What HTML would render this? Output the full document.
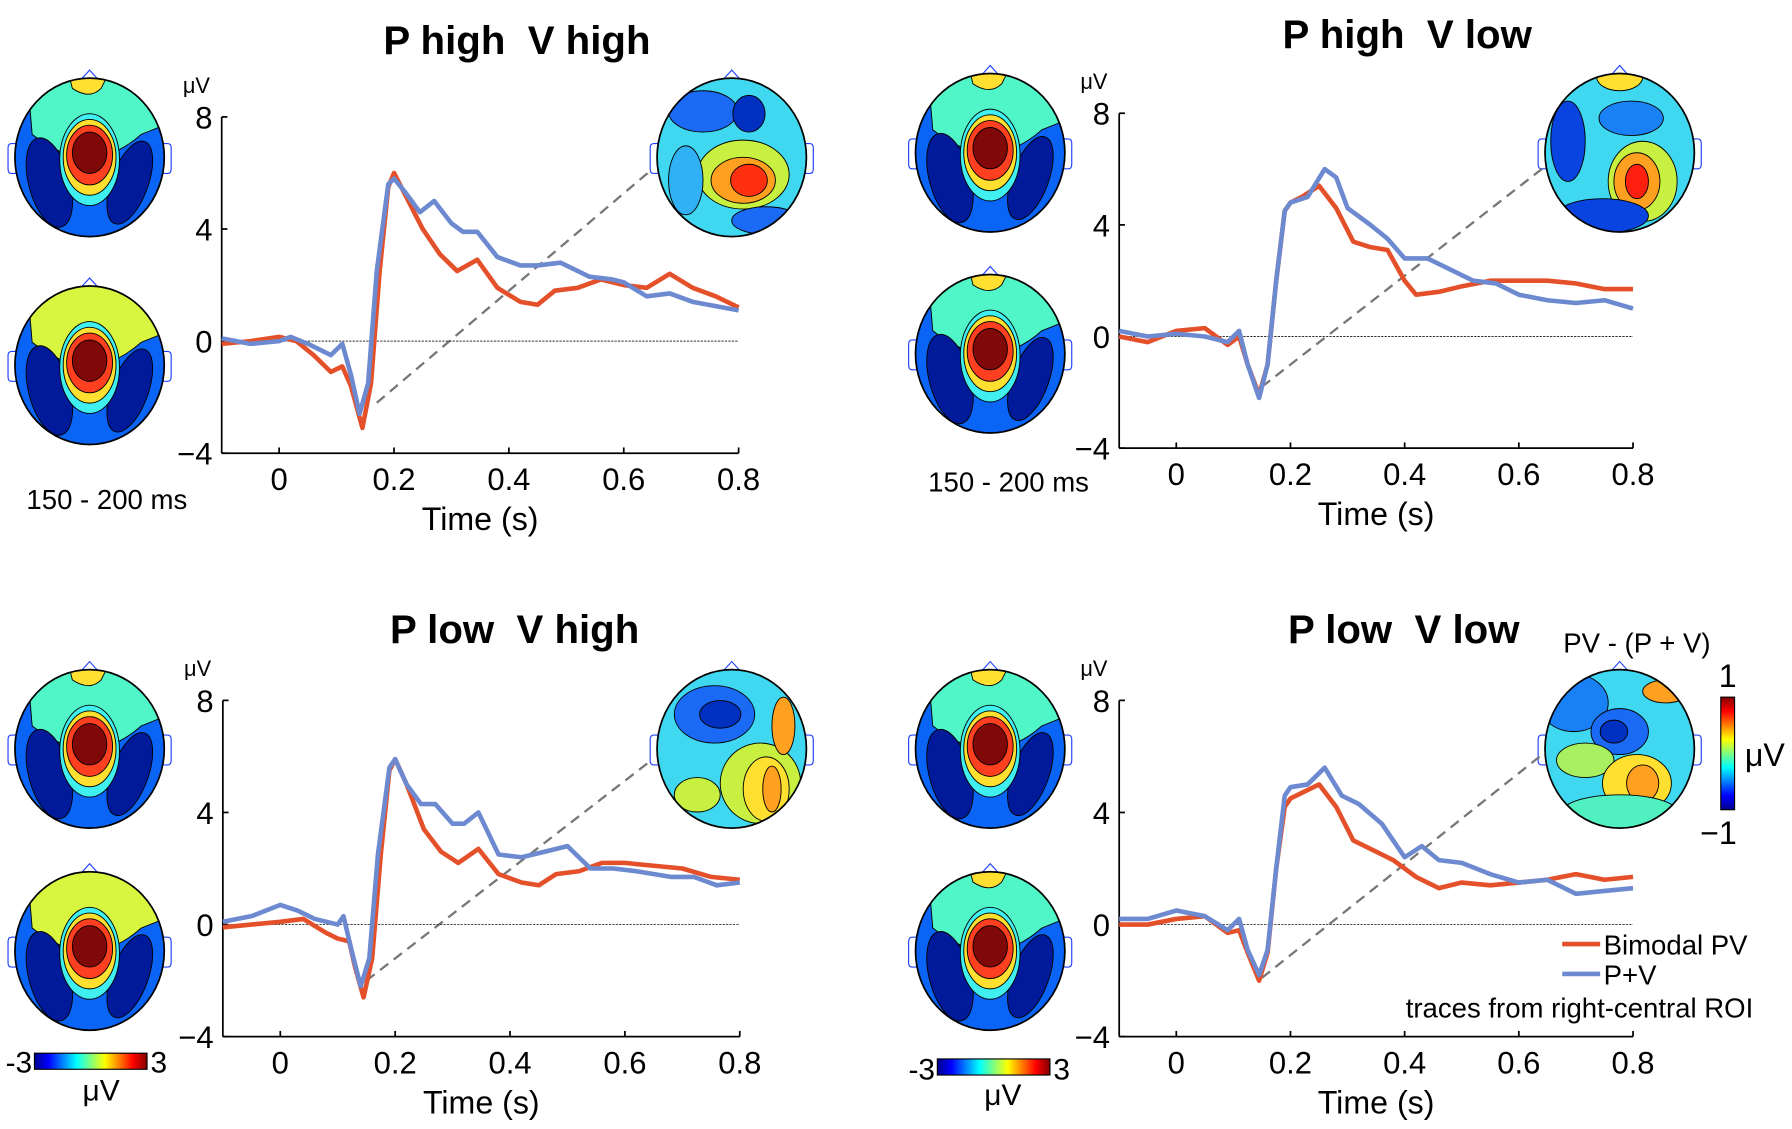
<!DOCTYPE html>
<html><head><meta charset="utf-8"><style>
html,body{margin:0;padding:0;background:#fff;}
svg{display:block;}
text{font-family:"Liberation Sans",sans-serif;fill:#000;}
</style></head><body>
<svg id="s" width="1792" height="1129" viewBox="0 0 1560 983" preserveAspectRatio="none" xmlns="http://www.w3.org/2000/svg">
<defs>
<linearGradient id="jetH" x1="0" x2="1" y1="0" y2="0">
<stop offset="0" stop-color="#00008f"/><stop offset="0.125" stop-color="#0000ff"/><stop offset="0.375" stop-color="#00ffff"/><stop offset="0.625" stop-color="#ffff00"/><stop offset="0.875" stop-color="#ff0000"/><stop offset="1" stop-color="#800000"/>
</linearGradient>
<linearGradient id="jetV" x1="0" x2="0" y1="1" y2="0">
<stop offset="0" stop-color="#00008f"/><stop offset="0.125" stop-color="#0000ff"/><stop offset="0.375" stop-color="#00ffff"/><stop offset="0.625" stop-color="#ffff00"/><stop offset="0.875" stop-color="#ff0000"/><stop offset="1" stop-color="#800000"/>
</linearGradient>
</defs>
</svg>
<script>
const S=document.getElementById('s');const NS='http://www.w3.org/2000/svg';
function el(t,a,txt){const e=document.createElementNS(NS,t);for(const k in a)e.setAttribute(k,a[k]);if(txt!==undefined)e.textContent=txt;S.appendChild(e);return e;}
function head(cx,cy){
 el('path',{d:`M${cx-9} ${cy-66} L${cx} ${cy-76} L${cx+9} ${cy-66}`,fill:'none',stroke:'#2040ff','stroke-width':1});
 el('path',{d:`M${cx-64} ${cy-12} h-4 q-3 0 -3 4 v18 q0 4 3 4 h4`,fill:'none',stroke:'#2040ff','stroke-width':1});
 el('path',{d:`M${cx+64} ${cy-12} h4 q3 0 3 4 v18 q0 4 -3 4 h-4`,fill:'none',stroke:'#2040ff','stroke-width':1});
}
function topoA(cx,cy,variant){
 head(cx,cy);
 const id='c'+cx+'_'+cy;
 const cp=el('clipPath',{id:id});const ce=document.createElementNS(NS,'ellipse');
 ce.setAttribute('cx',cx);ce.setAttribute('cy',cy);ce.setAttribute('rx',65);ce.setAttribute('ry',69);cp.appendChild(ce);
 const g=el('g',{'clip-path':`url(#${id})`});
 function add(t,a){const e=document.createElementNS(NS,t);for(const k in a)e.setAttribute(k,a[k]);e.setAttribute('stroke','#000');e.setAttribute('stroke-width','0.8');g.appendChild(e);}
 add('rect',{x:cx-70,y:cy-75,width:140,height:150,fill:'#0a64f5'});
 add('path',{d:`M${cx-55} ${cy-80} L${cx-50} ${cy-20} Q${cx} ${cy+20} ${cx+45} ${cy-20} L${cx+70} ${cy-30} L${cx+70} ${cy-80}Z`,fill: variant?'#d8f540':'#50f5c8'});
 if(!variant) add('path',{d:`M${cx-20} ${cy-80} L${cx-15} ${cy-60} Q${cx} ${cy-50} ${cx+10} ${cy-60} L${cx+20} ${cy-80}Z`,fill:'#ffe030'});
 add('ellipse',{cx:cx-35,cy:cy+22,rx:18,ry:40,fill:'#001a9a',transform:`rotate(-15 ${cx-35} ${cy+22})`});
 add('ellipse',{cx:cx+35,cy:cy+22,rx:16,ry:38,fill:'#001a9a',transform:`rotate(20 ${cx+35} ${cy+22})`});
 add('ellipse',{cx:cx,cy:cy+2,rx:26,ry:40,fill:'#40f0f0'});
 add('ellipse',{cx:cx,cy:cy,rx:23,ry:33,fill:'#ffe030'});
 add('ellipse',{cx:cx,cy:cy-2,rx:20,ry:26,fill:'#ff4020'});
 add('ellipse',{cx:cx,cy:cy-4,rx:15,ry:18,fill:'#800808'});
 el('ellipse',{cx:cx,cy:cy,rx:65,ry:69,fill:'none',stroke:'#000','stroke-width':1.5});
}
function topoB(cx,cy,blobs){
 head(cx,cy);
 const id='d'+cx+'_'+cy;
 const cp=el('clipPath',{id:id});const ce=document.createElementNS(NS,'ellipse');
 ce.setAttribute('cx',cx);ce.setAttribute('cy',cy);ce.setAttribute('rx',65);ce.setAttribute('ry',69);cp.appendChild(ce);
 const g=el('g',{'clip-path':`url(#${id})`});
 function add(t,a){const e=document.createElementNS(NS,t);for(const k in a)e.setAttribute(k,a[k]);e.setAttribute('stroke','#000');e.setAttribute('stroke-width','0.8');g.appendChild(e);}
 add('rect',{x:cx-70,y:cy-75,width:140,height:150,fill:'#40d8f0'});
 blobs.forEach(b=>add('ellipse',{cx:cx+b[0],cy:cy+b[1],rx:b[2],ry:b[3],fill:b[4]}));
 el('ellipse',{cx:cx,cy:cy,rx:65,ry:69,fill:'none',stroke:'#000','stroke-width':1.5});
}
function plot(o){
 const X=t=>o.x0+(t)*o.sx, Y=v=>o.y0-v*o.sy;
 el('line',{x1:X(o.d[0]),y1:Y(o.d[1]),x2:o.d[2],y2:o.d[3],stroke:'#777','stroke-width':2,'stroke-dasharray':'9,6'});
 el('line',{x1:X(-0.1),y1:Y(0),x2:X(0.8),y2:Y(0),stroke:'#333','stroke-width':0.8,'stroke-dasharray':'2,1'});
 el('line',{x1:X(-0.1),y1:Y(8),x2:X(-0.1),y2:Y(-4),stroke:'#000','stroke-width':1.5});
 el('line',{x1:X(-0.1),y1:Y(-4),x2:X(0.8),y2:Y(-4),stroke:'#000','stroke-width':1.5});
 [8,4,0,-4].forEach(v=>{el('line',{x1:X(-0.1),y1:Y(v),x2:X(-0.1)+5,y2:Y(v),stroke:'#000','stroke-width':1.5});
  el('text',{x:X(-0.1)-8,y:Y(v)+10,'font-size':27,'text-anchor':'end'},v<0?'\u2212'+(-v):v);});
 [0,0.2,0.4,0.6,0.8].forEach(t=>{el('line',{x1:X(t),y1:Y(-4),x2:X(t),y2:Y(-4)-5,stroke:'#000','stroke-width':1.5});
  el('text',{x:X(t),y:Y(-4)+32,'font-size':27,'text-anchor':'middle'},t===0?'0':t.toFixed(1));});
 el('text',{x:X(-0.1)-22,y:Y(8)-21,'font-size':19,'text-anchor':'middle'},'\u03bcV');
 el('text',{x:X(0.35),y:Y(-4)+67,'font-size':28,'text-anchor':'middle'},'Time (s)');
 el('text',{x:o.tx,y:o.ty,'font-size':35,'font-weight':'bold','text-anchor':'middle'},o.title);
 const path=pts=>pts.map((p,i)=>(i?'L':'M')+X(p[0]).toFixed(1)+' '+Y(p[1]).toFixed(1)).join(' ');
 el('path',{d:path(o.red),fill:'none',stroke:'#e4502a','stroke-width':4,'stroke-linejoin':'round'});
 el('path',{d:path(o.blue),fill:'none',stroke:'#6d8ad0','stroke-width':4,'stroke-linejoin':'round'});
}
const SP='\u00a0\u00a0';
topoA(78,137,false);topoA(78,318,true);
topoB(637,137,[[-25,-40,30,18,'#1a6af5'],[15,-38,14,16,'#0030c0'],[10,15,40,30,'#c8f040'],[10,20,28,20,'#ffa020'],[15,20,16,14,'#ff3010'],[-40,20,15,30,'#30b0f5'],[30,55,30,12,'#1a6af5']]);
plot({x0:243,sx:500,y0:297,sy:24.4,title:'P high'+SP+'V high',tx:450,ty:47,d:[0.17,-2.2,567,148],
red:[[-0.1,-0.1],[-0.05,0],[0,0.15],[0.03,0],[0.06,-0.5],[0.09,-1.1],[0.11,-0.9],[0.125,-1.6],[0.145,-3.1],[0.16,-1.5],[0.175,2.5],[0.19,5.5],[0.2,6],[0.22,5.2],[0.25,4],[0.28,3.1],[0.31,2.5],[0.345,2.9],[0.38,1.9],[0.42,1.4],[0.45,1.3],[0.48,1.8],[0.52,1.9],[0.56,2.2],[0.6,2.0],[0.64,1.9],[0.68,2.4],[0.72,1.9],[0.76,1.6],[0.8,1.2]],
blue:[[-0.1,0.1],[-0.05,-0.1],[0,0],[0.02,0.15],[0.05,-0.1],[0.09,-0.5],[0.11,-0.1],[0.125,-1.2],[0.14,-2.6],[0.155,-1.5],[0.17,2.5],[0.19,5.6],[0.2,5.8],[0.22,5.3],[0.245,4.6],[0.27,5],[0.3,4.2],[0.32,3.9],[0.345,3.9],[0.38,3.0],[0.42,2.7],[0.45,2.7],[0.49,2.8],[0.54,2.3],[0.58,2.2],[0.6,2.1],[0.64,1.6],[0.68,1.7],[0.72,1.4],[0.8,1.1]]});
el('text',{x:93,y:443,'font-size':24,'text-anchor':'middle'},'150 - 200 ms');
topoA(862,133,false);topoA(862,308,false);
topoB(1410,133,[[0,-66,20,12,'#ffe030'],[-45,-10,15,35,'#0a44e0'],[10,-30,28,15,'#1a80f5'],[20,25,30,35,'#c8f040'],[15,25,20,25,'#ffa020'],[15,25,10,15,'#ff2010'],[-15,55,40,15,'#0a44e0']]);
plot({x0:1024,sx:497,y0:293,sy:24.3,title:'P high'+SP+'V low',tx:1225,ty:42,d:[0.15,-1.8,1345,145],
red:[[-0.1,0],[-0.05,-0.2],[0,0.2],[0.05,0.3],[0.09,-0.3],[0.11,0],[0.125,-1],[0.145,-2.1],[0.16,-1],[0.175,2],[0.19,4.5],[0.2,4.8],[0.22,5],[0.25,5.4],[0.28,4.6],[0.31,3.4],[0.34,3.2],[0.37,3.1],[0.4,2.0],[0.42,1.5],[0.46,1.6],[0.5,1.8],[0.55,2.0],[0.6,2.0],[0.65,2.0],[0.7,1.9],[0.75,1.7],[0.8,1.7]],
blue:[[-0.1,0.2],[-0.05,0],[0,0.1],[0.05,0],[0.09,-0.2],[0.11,0.2],[0.125,-1],[0.145,-2.2],[0.16,-1],[0.175,2],[0.19,4.5],[0.2,4.8],[0.23,5],[0.26,6],[0.28,5.7],[0.3,4.6],[0.34,4.0],[0.37,3.5],[0.4,2.8],[0.44,2.8],[0.48,2.4],[0.52,2.0],[0.56,1.9],[0.6,1.5],[0.65,1.3],[0.7,1.2],[0.75,1.3],[0.8,1.0]]});
el('text',{x:878,y:428,'font-size':24,'text-anchor':'middle'},'150 - 200 ms');
topoA(78,652,false);topoA(78,828,true);
topoB(637,652,[[-15,-30,35,25,'#1a6af5'],[-10,-30,18,12,'#0030c0'],[25,30,35,35,'#c8f040'],[30,35,20,28,'#ffe030'],[35,35,8,20,'#ffa020'],[-30,40,20,15,'#c8f040'],[45,-20,10,25,'#ffa020']]);
plot({x0:244,sx:500,y0:805,sy:24.4,title:'P low'+SP+'V high',tx:448,ty:560,d:[0.15,-2,567,662],
red:[[-0.1,-0.1],[-0.05,0],[0,0.1],[0.04,0.2],[0.08,-0.3],[0.1,-0.5],[0.12,-0.6],[0.13,-1.5],[0.145,-2.6],[0.16,-1.2],[0.175,2.5],[0.19,5.5],[0.2,5.9],[0.22,5],[0.25,3.4],[0.28,2.6],[0.31,2.2],[0.345,2.7],[0.38,1.8],[0.42,1.5],[0.45,1.4],[0.48,1.8],[0.52,1.9],[0.56,2.2],[0.6,2.2],[0.65,2.1],[0.7,2.0],[0.75,1.7],[0.8,1.6]],
blue:[[-0.1,0.1],[-0.05,0.3],[0,0.7],[0.03,0.5],[0.06,0.2],[0.1,0],[0.11,0.3],[0.125,-1],[0.14,-2.2],[0.155,-1.2],[0.17,2.5],[0.19,5.6],[0.2,5.9],[0.22,5],[0.245,4.3],[0.27,4.3],[0.3,3.6],[0.32,3.6],[0.345,4],[0.38,2.5],[0.42,2.4],[0.46,2.6],[0.5,2.8],[0.54,2.0],[0.58,2.0],[0.62,1.9],[0.68,1.7],[0.72,1.7],[0.76,1.4],[0.8,1.5]]});
el('rect',{x:30,y:917,width:98,height:14,fill:'url(#jetH)',stroke:'#000','stroke-width':1});
el('text',{x:28,y:934,'font-size':26,'text-anchor':'end'},'-3');
el('text',{x:131,y:934,'font-size':26},'3');
el('text',{x:88,y:958,'font-size':26,'text-anchor':'middle'},'\u03bcV');
topoA(862,652,false);topoA(862,828,false);
topoB(1410,652,[[-40,-40,30,25,'#1a80f5'],[0,-15,25,20,'#1a6af5'],[-5,-15,12,10,'#0030c0'],[-30,10,25,15,'#a8f060'],[15,30,30,25,'#ffe030'],[20,30,14,16,'#ffa020'],[40,-50,20,10,'#ffa020'],[0,55,50,15,'#50f0c0']]);
plot({x0:1024,sx:497,y0:805,sy:24.4,title:'P low'+SP+'V low',tx:1222,ty:560,d:[0.15,-1.9,1345,655],
red:[[-0.1,0],[-0.05,0],[0,0.2],[0.05,0.3],[0.09,-0.3],[0.11,-0.2],[0.125,-1],[0.145,-2],[0.16,-1],[0.175,2],[0.19,4.2],[0.2,4.5],[0.23,4.8],[0.25,5],[0.28,4.2],[0.31,3],[0.35,2.6],[0.38,2.3],[0.42,1.7],[0.46,1.3],[0.5,1.5],[0.55,1.4],[0.6,1.5],[0.65,1.6],[0.7,1.8],[0.75,1.6],[0.8,1.7]],
blue:[[-0.1,0.2],[-0.05,0.2],[0,0.5],[0.05,0.3],[0.09,-0.2],[0.11,0.2],[0.125,-0.9],[0.145,-1.8],[0.16,-0.9],[0.175,2],[0.19,4.6],[0.2,4.9],[0.23,5],[0.26,5.6],[0.29,4.6],[0.32,4.3],[0.36,3.6],[0.4,2.4],[0.43,2.8],[0.46,2.3],[0.5,2.2],[0.55,1.8],[0.6,1.5],[0.65,1.6],[0.7,1.1],[0.75,1.2],[0.8,1.3]]});
el('text',{x:1425,y:568,'font-size':24,'text-anchor':'middle'},'PV - (P + V)');
el('rect',{x:1498,y:607,width:12,height:98,fill:'url(#jetV)',stroke:'#000','stroke-width':1});
el('text',{x:1504,y:598,'font-size':28,'text-anchor':'middle'},'1');
el('text',{x:1519,y:667,'font-size':28},'\u03bcV');
el('text',{x:1496,y:735,'font-size':28,'text-anchor':'middle'},'\u22121');
el('text',{x:873,y:962,'font-size':26,'text-anchor':'middle'},'\u03bcV');
el('rect',{x:816,y:922,width:98,height:14,fill:'url(#jetH)',stroke:'#000','stroke-width':1});
el('text',{x:814,y:940,'font-size':26,'text-anchor':'end'},'-3');
el('text',{x:917,y:940,'font-size':26},'3');
el('line',{x1:1360,y1:822,x2:1393,y2:822,stroke:'#e4502a','stroke-width':4});
el('text',{x:1396,y:831,'font-size':24},'Bimodal PV');
el('line',{x1:1360,y1:848,x2:1393,y2:848,stroke:'#6d8ad0','stroke-width':4});
el('text',{x:1396,y:857,'font-size':24},'P+V');
el('text',{x:1375,y:886,'font-size':24,'text-anchor':'middle'},'traces from right-central ROI');
</script>
</body></html>
